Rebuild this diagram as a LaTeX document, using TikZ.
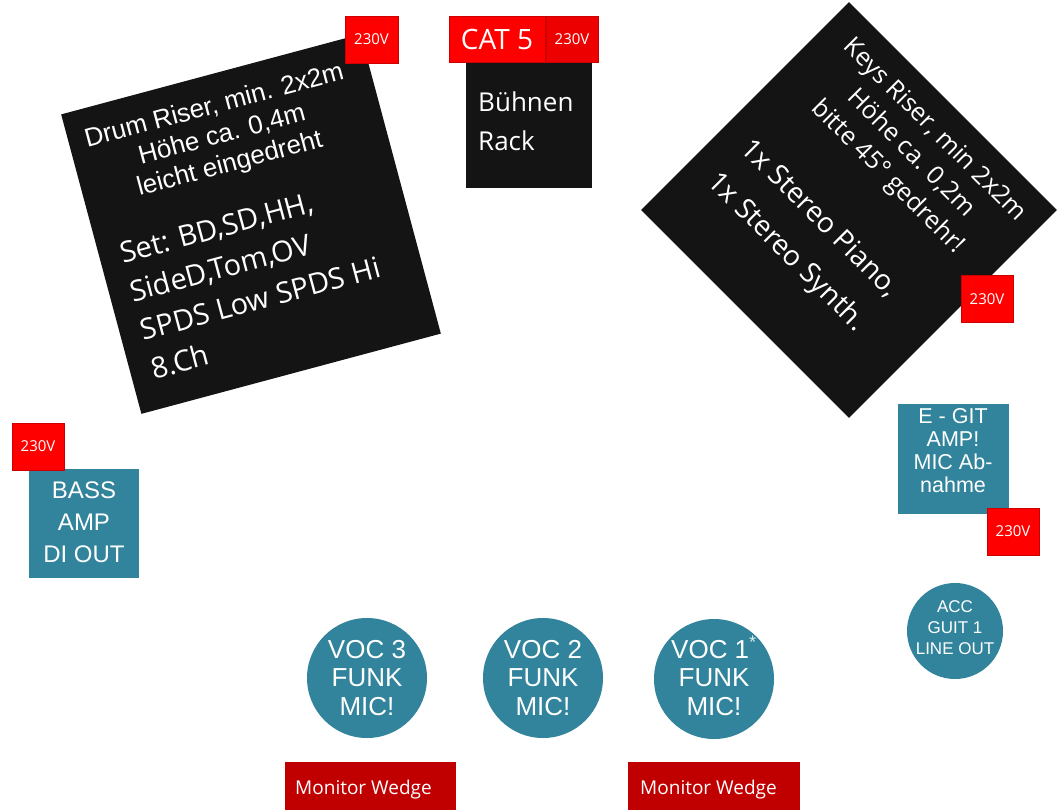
\documentclass[tikz,border=0pt]{standalone}
\usepackage{fontspec}
\setmainfont{Liberation Sans}
\newfontfamily\segoe{Open Sans}
\definecolor{tealblue}{HTML}{31849B}
\definecolor{wedgered}{HTML}{C00000}
\definecolor{pwrred}{HTML}{FF0000}
\definecolor{riserblack}{HTML}{141414}
\tikzset{
  pwrbox/.style={fill=pwrred, draw=pwrred!80!black, line width=0.5pt, text=white,
    minimum width=52pt, minimum height=47pt, inner sep=0pt,
    font=\segoe\fontsize{15}{18}\selectfont},
  bluebox/.style={fill=tealblue, inner sep=0pt},
  bluecircle/.style={circle, fill=tealblue, inner sep=0pt},
  wedge/.style={fill=wedgered, inner sep=0pt, minimum height=50pt},
  wtxt/.style={text=white, inner sep=0pt},
  arialtxt/.style={wtxt, font=\fontsize{#1}{#1}\selectfont},
  segtxt/.style={wtxt, font=\segoe\fontsize{#1}{#1}\selectfont},
}
\begin{document}
\begin{tikzpicture}[x=1pt, y=-1pt]
\useasboundingbox (0,0) rectangle (1057,809);
\fill[white] (0,0) rectangle (1057,809);
\clip (0,0) rectangle (1057,809);

% ---------- Drum riser ----------
\begin{scope}[shift={(251,224)}, rotate=15, transform shape]
  \node[fill=riserblack, minimum width=310pt, minimum height=310pt, inner sep=0pt] (drum) at (0,0) {};
  \node[arialtxt=26, anchor=base] (d1) at (-5,-116) {Drum Riser, min. 2x2m};
  \node[arialtxt=26, anchor=base] (d2) at (-5,-86) {Höhe ca. 0,4m};
  \node[arialtxt=26, anchor=base] (d3) at (-5,-56) {leicht eingedreht};
  \node[segtxt=29, anchor=base west] (d4) at (-134,5) {Set: BD,SD,HH,};
  \node[segtxt=29, anchor=base west] (d5) at (-134,45) {SideD,Tom,OV};
  \node[segtxt=29, anchor=base west] (d6) at (-134,85) {SPDS Low SPDS Hi};
  \node[segtxt=29, anchor=base west] (d7) at (-134,125) {8.Ch};
\end{scope}
\node[pwrbox, minimum width=53pt] (pdrum) at (371.5,39.5) {230V};

% ---------- Keys riser ----------
\begin{scope}[shift={(849,210)}, rotate=-45, transform shape]
  \node[fill=riserblack, minimum width=294pt, minimum height=294pt, inner sep=0pt] (keys) at (0,0) {};
  \node[segtxt=25, anchor=base] (k1) at (4,-110) {Keys Riser, min 2x2m};
  \node[segtxt=25, anchor=base] (k2) at (4,-77) {Höhe ca. 0,2m};
  \node[segtxt=25, anchor=base] (k3) at (4,-44) {bitte 45° gedrehr!};
  \node[segtxt=28, anchor=base west] (k4) at (-120,35) {1x Stereo Piano,};
  \node[segtxt=28, anchor=base west] (k5) at (-120,82) {1x Stereo Synth.};
\end{scope}
\node[pwrbox] (pkeys) at (987,299) {230V};

% ---------- Buehnen rack ----------
\node[fill=riserblack, minimum width=126pt, minimum height=126pt, inner sep=0pt] (rack) at (529,125) {};
\node[segtxt=26, anchor=base west] (r1) at (478,111.5) {Bühnen};
\node[segtxt=26, anchor=base west] (r2) at (478,150) {Rack};
\node[fill=pwrred, draw=pwrred!80!black, line width=0.5pt, text=white, minimum width=96pt, minimum height=46pt, inner sep=0pt,
  font=\segoe\fontsize{28}{28}\selectfont] (cat) at (497,39) {CAT 5};
\node[pwrbox, minimum height=46pt, fill=pwrred!93!black] (prack) at (572,39) {230V};

% ---------- Bass amp ----------
\node[bluebox, minimum width=110pt, minimum height=109pt] (bass) at (84,523.5) {};
\node[arialtxt=24, anchor=base] (b1) at (84,498) {BASS};
\node[arialtxt=24, anchor=base] (b2) at (84,530) {AMP};
\node[arialtxt=24, anchor=base] (b3) at (84,562) {DI OUT};
\node[pwrbox] (pbass) at (38,446.5) {230V};

% ---------- E-Git amp ----------
\node[bluebox, minimum width=111pt, minimum height=110pt] (egit) at (953.5,459) {};
\node[arialtxt=21.5, anchor=base] (e1) at (953,423) {E - GIT};
\node[arialtxt=21.5, anchor=base] (e2) at (953,446) {AMP!};
\node[arialtxt=21.5, anchor=base] (e3) at (953,469) {MIC Ab-};
\node[arialtxt=21.5, anchor=base] (e4) at (953,492) {nahme};
\node[pwrbox] (pegit) at (1013,531.5) {230V};

% ---------- Acc guitar ----------
\node[bluecircle, minimum size=96pt] (acc) at (955,631) {};
\node[arialtxt=17, anchor=base] (a1) at (955,612.7) {ACC};
\node[arialtxt=17, anchor=base] (a2) at (955,633.5) {GUIT 1};
\node[arialtxt=17, anchor=base] (a3) at (955,654.3) {LINE OUT};

% ---------- Vocal mics ----------
\node[bluecircle, minimum size=120pt] (voc3) at (367,678) {};
\node[arialtxt=26, anchor=base] (v31) at (367,658) {VOC 3};
\node[arialtxt=26, anchor=base] (v32) at (367,686.5) {FUNK};
\node[arialtxt=26, anchor=base] (v33) at (367,715) {MIC!};

\node[bluecircle, minimum size=120pt] (voc2) at (543,678) {};
\node[arialtxt=26, anchor=base] (v21) at (543,658) {VOC 2};
\node[arialtxt=26, anchor=base] (v22) at (543,686.5) {FUNK};
\node[arialtxt=26, anchor=base] (v23) at (543,715) {MIC!};

\node[bluecircle, minimum size=120pt] (voc1) at (714,679) {};
\node[arialtxt=26, anchor=base] (v11) at (714,658) {VOC 1\textsuperscript{\textcolor{white!85!tealblue}{*}}};
\node[arialtxt=26, anchor=base] (v12) at (714,686.5) {FUNK};
\node[arialtxt=26, anchor=base] (v13) at (714,715) {MIC!};

% ---------- Monitor wedges ----------
\node[wedge, minimum width=171pt, anchor=north west] (w1) at (285,762) {};
\node[segtxt=19, anchor=base west] (w1t) at (295,794) {Monitor Wedge};
\node[wedge, minimum width=172pt, anchor=north west] (w2) at (628,762) {};
\node[segtxt=19, anchor=base west] (w2t) at (640,794) {Monitor Wedge};
\end{tikzpicture}
\end{document}
